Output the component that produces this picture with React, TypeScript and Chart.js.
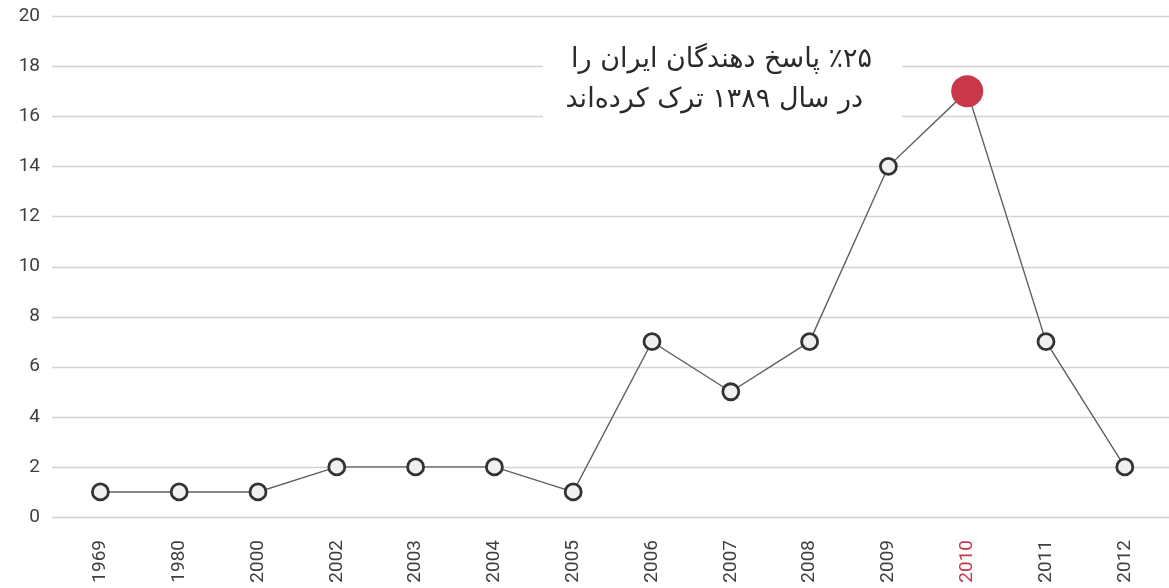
import React, { useEffect, useRef } from "react";
import { Chart, registerables } from "chart.js";

Chart.register(...registerables);

const years = ["1969", "1980", "2000", "2002", "2003", "2004", "2005", "2006", "2007", "2008", "2009", "2010", "2011", "2012"];
const values = [1, 1, 1, 2, 2, 2, 1, 7, 5, 7, 14, 17, 7, 2];
const highlightYear = "2010";
const noteLines = ["۲۵\u200F٪ پاسخ دهندگان ایران را", "در سال ۱۳۸۹ ترک کرده‌اند"];

const RED = "#c8374a";
const TEXT = "#3f3f3f";

const gridPlugin = {
  id: "customGrid",
  beforeDatasetsDraw(chart: any) {
    const { ctx, scales, width } = chart;
    const y = scales.y;
    ctx.save();
    ctx.strokeStyle = "#d2d2d2";
    ctx.lineWidth = 1.5;
    y.ticks.forEach((t: any) => {
      const py = Math.round(y.getPixelForValue(t.value)) + 0.5;
      ctx.beginPath();
      ctx.moveTo(52, py);
      ctx.lineTo(width, py);
      ctx.stroke();
    });
    // white box behind note
    ctx.fillStyle = "#ffffff";
    ctx.fillRect(543, 38, 359, 86);
    ctx.fillStyle = "#2a2a2a";
    ctx.font = "27px 'DejaVu Sans', sans-serif";
    ctx.textAlign = "right";
    ctx.textBaseline = "middle";
    (ctx as any).direction = "rtl";
    ctx.fillText(noteLines[0], 872, 60);
    ctx.fillText(noteLines[1], 863, 100);
    ctx.restore();
  },
};

export default function App() {
  const ref = useRef<HTMLCanvasElement>(null);
  useEffect(() => {
    document.body.style.margin = "0";
    const hi = years.indexOf(highlightYear);
    const chart = new Chart(ref.current!, {
      type: "line",
      data: {
        labels: years,
        datasets: [
          {
            data: values,
            borderColor: "#606060",
            borderWidth: 1.4,
            tension: 0,
            pointRadius: years.map((_, i) => (i === hi ? 16 : 8)),
            pointBackgroundColor: years.map((_, i) => (i === hi ? RED : "#f0f0f0")),
            pointBorderColor: years.map((_, i) => (i === hi ? RED : "#333333")),
            pointBorderWidth: years.map((_, i) => (i === hi ? 0 : 2.8)),
          },
        ],
      },
      options: {
        animation: false,
        responsive: false,
        maintainAspectRatio: false,
        layout: { padding: { top: 16, right: 0, left: 0, bottom: 0 } },
        plugins: { legend: { display: false }, tooltip: { enabled: false } },
        scales: {
          x: {
            offset: true,
            grid: { display: false, drawTicks: false },
            border: { display: false },
            ticks: {
              minRotation: 90,
              maxRotation: 90,
              padding: 23,
              autoSkip: false,
              font: { family: "Roboto", size: 19 },
              color: (c: any) => (years[c.index] === highlightYear ? RED : TEXT),
            },
            afterFit: (s: any) => {
              s.height = 71;
            },
          },
          y: {
            min: 0,
            max: 20,
            grid: { display: false, drawTicks: false },
            border: { display: false },
            ticks: {
              stepSize: 2,
              padding: 21,
              font: { family: "Roboto", size: 19 },
              color: TEXT,
            },
            afterFit: (s: any) => {
              s.width = 61;
              s.paddingTop = 0;
              s.paddingBottom = 0;
            },
          },
        },
      },
      plugins: [gridPlugin],
    });
    return () => chart.destroy();
  }, []);
  return (
    <div style={{ position: "absolute", left: 0, top: 0, width: 1169, height: 588, overflow: "hidden" }}>
      <canvas ref={ref} width={1175} height={588} style={{ width: 1175, height: 588, display: "block" }} />
    </div>
  );
}
